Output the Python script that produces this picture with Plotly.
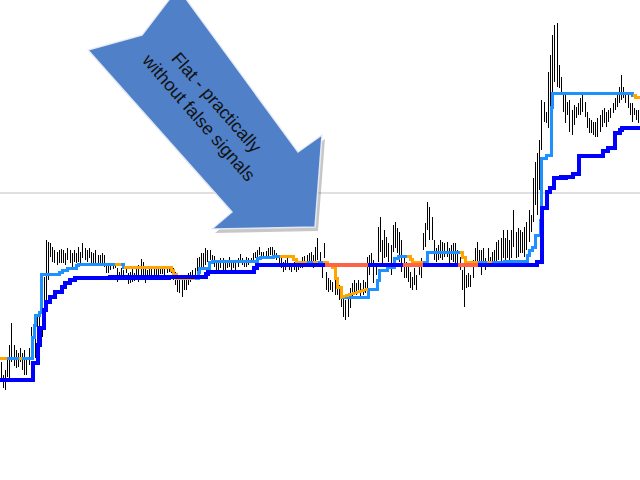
import plotly.graph_objects as go

# ---- price bars (high / low), sequential bars ----
highs = [
    118,105,110,120,135,157,135,130,127,132,127,130,120,132,153,150,143,163,167,202,
    203,240,238,237,233,230,228,230,231,230,227,232,230,227,230,227,233,228,237,232,
    230,232,228,227,230,225,225,227,225,217,215,214,
    214,215,212,208,212,210,213,207,208,212,207,212,215,221,218,212,210,212,213,212,
    213,212,212,213,213,212,212,213,212,208,202,200,205,202,205,207,208,210,212,222,
    223,227,227,232,230,230,225,
    224,220,218,222,222,218,220,223,217,218,219,222,226,222,220,223,222,222,227,228,
    230,233,228,228,229,232,233,233,230,227,225,223,218,220,222,217,217,218,217,218,
    217,223,224,225,227,228,225,
    233,242,228,218,237,208,202,200,198,207,198,195,190,185,180,185,192,197,200,197,
    200,197,200,198,223,225,227,220,217,253,263,240,250,243,237,235,255,258,252,248,
    240,222,218,215,208,203,212,205,218,222,
    247,257,278,273,263,240,232,235,240,238,237,238,232,235,237,237,230,223,210,215,
    205,207,205,220,232,238,230,230,232,222,232,223,228,230,238,240,242,250,242,250,
    240,250,270,248,252,250,248,253,258,
    270,265,302,318,327,340,380,378,368,408,425,445,455,457,415,403,387,385,378,380,
    370,375,373,377,382,385,378,368,362,360,358,358,362,365,370,372,368,370,372,377,
    382,385,393,405,393,388,385,377,377,372,370,370,
]
lows = [
    102,92,90,103,98,118,114,112,113,118,110,105,105,115,120,127,122,127,137,143,
    163,170,200,223,218,217,215,217,217,217,215,220,217,213,218,217,218,217,222,220,
    218,222,217,217,217,217,215,217,213,207,207,210,
    211,212,198,203,202,203,207,196,197,198,199,202,198,202,205,197,202,203,203,202,
    205,203,206,206,205,207,208,207,200,195,188,187,183,190,190,195,198,200,203,207,
    208,212,213,215,218,220,218,
    213,210,210,212,210,210,212,213,210,212,210,213,218,215,213,213,215,217,218,222,
    223,225,222,223,222,223,225,225,222,220,213,212,208,210,213,210,208,210,208,210,
    212,212,213,215,217,218,212,
    218,220,215,202,222,190,188,190,188,185,185,180,173,163,160,163,172,182,185,185,
    187,183,185,187,188,205,213,197,205,218,228,217,222,223,218,205,228,232,227,218,
    208,202,202,198,192,190,195,190,205,202,
    230,233,250,240,240,220,218,220,222,220,223,223,215,220,218,215,215,210,190,173,
    192,193,193,202,218,218,215,205,213,210,217,213,215,217,217,220,218,222,218,222,
    220,222,233,222,223,227,227,223,230,
    238,248,258,275,265,290,330,358,357,352,365,385,398,393,392,387,368,357,365,348,
    345,355,362,365,365,368,363,352,347,347,345,343,343,348,353,357,353,358,362,367,
    370,373,377,380,382,377,372,365,358,365,360,357,
]

# ---- slow (thick) stepped line: bar position where a new level starts, level ----
slow_x = [-0.5, 14.8, 17.1, 17.8, 19.9, 20.8, 22.7, 25.0, 28.3, 29.7, 32.0, 34.3, 35.2,
          95.1, 96.0, 117.4, 118.8, 248.7, 251.0, 253.3, 254.7, 256.6, 258.0, 265.4,
          268.2, 279.3, 281.6, 284.9, 287.2, 288.1]
slow_v = [100, 117, 135, 152, 170, 178, 183, 188, 193, 197, 200, 202, 203,
          206, 208, 212, 215, 218, 272, 288, 292, 302, 303, 306,
          324, 329, 332, 347, 350, 352]
slow_red_spans = [(150.3, 170.3), (186.5, 195.8), (212.0, 221.3)]

# ---- fast (thin) stepped line ----
fast_x = [-0.5, 14.4, 15.3, 16.2, 17.6, 18.8, 26.9, 28.3, 30.6, 34.8, 35.7, 57.0, 79.3,
          80.2, 81.4, 91.4, 92.3, 96.5, 97.9, 118.8, 120.2, 126.2, 135.5, 136.9, 151.7,
          153.6, 155.0, 156.3, 158.2, 170.3, 174.9, 175.8, 179.5, 182.8, 184.2, 189.8,
          191.1, 198.1, 214.3, 215.7, 233.8, 244.5, 245.4, 246.4, 247.8, 250.5, 251.0,
          253.3, 255.2, 256.1, 293.2, 294.2]
fast_v = [122, 143, 155, 165, 168, 206, 208, 210, 212, 215, 216, 213, 210,
          206, 202, 208, 212, 218, 219, 222, 223, 224, 221, 218, 216,
          213, 202, 193, 183, 191, 200, 210, 213, 222, 224, 221,
          218, 228, 223, 218, 219, 225, 230, 233, 245, 260, 322,
          325, 373, 387, 385, 383]
fast_orange_spans = [(-0.5, 2.7), (8.3, 9.7), (52.9, 55.6), (57.0, 90.0), (129.4, 142.0),
                     (144.7, 147.1), (149.4, 170.3), (188.4, 195.8), (213.0, 221.3),
                     (225.5, 227.8), (293.2, 296.5)]

level = 287  # horizontal level line

N = len(highs)
X_END = N - 0.5


def step_val(bx, bv, t):
    v = bv[0]
    for a, b in zip(bx, bv):
        if a <= t:
            v = b
    return v


def step_path(bx, bv, a, b):
    xs, ys = [a], [step_val(bx, bv, a)]
    for px, pv in zip(bx, bv):
        if a < px < b:
            xs += [px, px]
            ys += [ys[-1], pv]
    xs.append(b)
    ys.append(step_val(bx, bv, b))
    return xs, ys


fig = go.Figure()

# bars
bx, by = [], []
for i, (h, l) in enumerate(zip(highs, lows)):
    bx += [i, i, None]
    by += [l, h, None]
fig.add_trace(go.Scatter(x=bx, y=by, mode="lines", line=dict(color="black", width=1),
                         hoverinfo="skip", showlegend=False))

# fast line
fx, fy = step_path(fast_x, fast_v, -0.5, X_END)
fig.add_trace(go.Scatter(x=fx, y=fy, mode="lines", line=dict(color="#1E90FF", width=3),
                         showlegend=False))
for a, b in fast_orange_spans:
    ox, oy = step_path(fast_x, fast_v, a, b)
    fig.add_trace(go.Scatter(x=ox, y=oy, mode="lines", line=dict(color="#FFA500", width=3),
                             showlegend=False))

# slow line
sx, sy = step_path(slow_x, slow_v, -0.5, X_END)
fig.add_trace(go.Scatter(x=sx, y=sy, mode="lines", line=dict(color="#0000FF", width=4.5),
                         showlegend=False))
for a, b in slow_red_spans:
    rx, ry = step_path(slow_x, slow_v, a, b)
    fig.add_trace(go.Scatter(x=rx, y=ry, mode="lines", line=dict(color="#FF6347", width=4.5),
                             showlegend=False))


# ---- decorative arrow (pixel positions -> paper) ----
def P(x, y):
    return f"{x/640:.5f},{1 - y/480:.5f}"


arrow_pts = [(88, 50), (142, 35), (178, -12), (298, 152), (322, 135), (315, 227),
             (212, 229), (232, 212)]


def arrow_path(dx=0, dy=0):
    s = "M " + " L ".join(P(x + dx, y + dy) for x, y in arrow_pts) + " Z"
    return s


shapes = [
    dict(type="line", xref="paper", yref="y", x0=0, x1=1, y0=level, y1=level,
         line=dict(color="#C0C0C0", width=1), layer="below"),
    dict(type="path", xref="paper", yref="paper", path=arrow_path(3, 4),
         fillcolor="rgba(0,0,0,0.22)", line=dict(width=0)),
    dict(type="path", xref="paper", yref="paper", path=arrow_path(),
         fillcolor="#4F80C8", line=dict(color="rgba(235,240,248,0.9)", width=1.5)),
]

fig.update_layout(
    width=640, height=480,
    margin=dict(l=0, r=0, t=0, b=0),
    paper_bgcolor="white", plot_bgcolor="white",
    xaxis=dict(range=[-0.5, X_END], visible=False, fixedrange=True),
    yaxis=dict(range=[0, 480], visible=False, fixedrange=True),
    shapes=shapes,
    annotations=[dict(
        text="Flat - practically<br>without false signals",
        xref="paper", yref="paper", x=207/640, y=1 - 110/480,
        xanchor="center", yanchor="middle",
        showarrow=False, textangle=49,
        font=dict(family="Liberation Sans, Arial", size=18, color="#111111"),
        align="center",
    )],
    showlegend=False,
)

fig.write_html(
    "out.html",
    config={"displayModeBar": False},
    post_script=(
        "document.body.style.margin='0';document.body.style.padding='0';"
        "document.body.style.overflow='hidden';"
        "document.querySelectorAll('.scatterlayer path.js-line').forEach("
        "function(p){p.style.shapeRendering='crispEdges';});"
    ),
)
